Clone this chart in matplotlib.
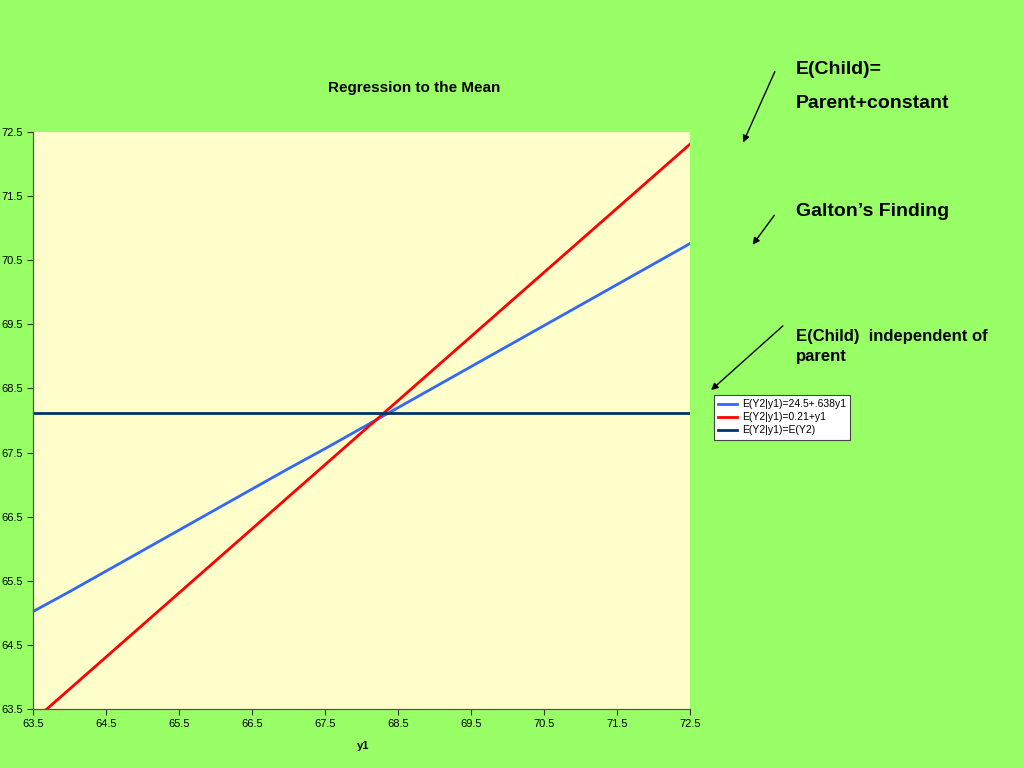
import matplotlib
matplotlib.use("Agg")
import matplotlib.pyplot as plt

plt.rcParams['font.family'] = ['Liberation Sans', 'DejaVu Sans']

# 数据
y1 = [63.5, 64.0, 64.5, 65.0, 65.5, 66.0, 66.5, 67.0, 67.5,
      68.0, 68.5, 69.0, 69.5, 70.0, 70.5, 71.0, 71.5, 72.0, 72.5]
galton = [65.02, 65.33, 65.65, 65.97, 66.29, 66.61, 66.93, 67.25, 67.56,
          67.88, 68.20, 68.52, 68.84, 69.16, 69.48, 69.80, 70.12, 70.44, 70.76]
plus_const = [63.31, 63.81, 64.31, 64.81, 65.31, 65.81, 66.31, 66.81, 67.31,
              67.81, 68.31, 68.81, 69.31, 69.81, 70.31, 70.81, 71.31, 71.81, 72.31]
indep = [68.12] * len(y1)
labels = ["E(Y2|y1)=24.5+.638y1", "E(Y2|y1)=0.21+y1", "E(Y2|y1)=E(Y2)"]
ticks = [63.5, 64.5, 65.5, 66.5, 67.5, 68.5, 69.5, 70.5, 71.5, 72.5]

green = "#99ff66"
fig = plt.figure(figsize=(10.24, 7.68), dpi=100, facecolor=green)
ax = fig.add_axes([33 / 1024, 59 / 768, 657 / 1024, 577 / 768])
ax.set_facecolor("#ffffcc")

ax.plot(y1, galton, color="#3366ff", lw=2, label=labels[0])
ax.plot(y1, plus_const, color="#ff0000", lw=2, label=labels[1])
ax.plot(y1, indep, color="#003366", lw=2, label=labels[2])

ax.set_xlim(63.5, 72.5)
ax.set_ylim(63.5, 72.5)
ax.set_xticks(ticks)
ax.set_yticks(ticks)
ax.tick_params(labelsize=8, length=4, width=0.8, colors="#333333", labelcolor="black")
for s in ax.spines.values():
    s.set_color("#555555")
    s.set_linewidth(0.9)
ax.spines['top'].set_visible(False)
ax.spines['right'].set_visible(False)

fig.text(414 / 1024, 1 - 88 / 768, "Regression to the Mean", ha="center", va="center",
         fontsize=11, fontweight="bold")
fig.text(363 / 1024, 1 - 746 / 768, "y1", ha="center", va="center", fontsize=8, fontweight="bold")

leg = ax.legend(loc="upper left", bbox_to_anchor=(714 / 1024, 1 - 395 / 768),
                bbox_transform=fig.transFigure, fontsize=7.5, frameon=True, fancybox=False,
                framealpha=1, handlelength=1.8, handletextpad=0.5, borderpad=0.4,
                labelspacing=0.3, borderaxespad=0)
leg.get_frame().set_edgecolor("#444444")
leg.get_frame().set_facecolor("white")
leg.get_frame().set_linewidth(0.8)

# 注释文字
fig.text(796 / 1024, 1 - 70 / 768, "E(Child)=", fontsize=14, fontweight="bold", va="center")
fig.text(796 / 1024, 1 - 104 / 768, "Parent+constant", fontsize=14, fontweight="bold", va="center")
fig.text(796 / 1024, 1 - 212 / 768, "Galton\u2019s Finding", fontsize=14, fontweight="bold", va="center")
fig.text(796 / 1024, 1 - 336 / 768, "E(Child)  independent of", fontsize=12, fontweight="bold", va="center")
fig.text(796 / 1024, 1 - 357 / 768, "parent", fontsize=12, fontweight="bold", va="center")

# 箭头
arrows = [((776, 69), (742, 145)), ((776, 213), (751, 247)), ((785, 324), (709, 392))]
for (x0, y0), (x1, y1_) in arrows:
    fig.add_artist(matplotlib.patches.FancyArrowPatch(
        (x0 / 1024, 1 - y0 / 768), (x1 / 1024, 1 - y1_ / 768),
        transform=fig.transFigure, arrowstyle="-|>", mutation_scale=10,
        color="black", lw=1.0))

fig.savefig("out.png", dpi=100, facecolor=green)
